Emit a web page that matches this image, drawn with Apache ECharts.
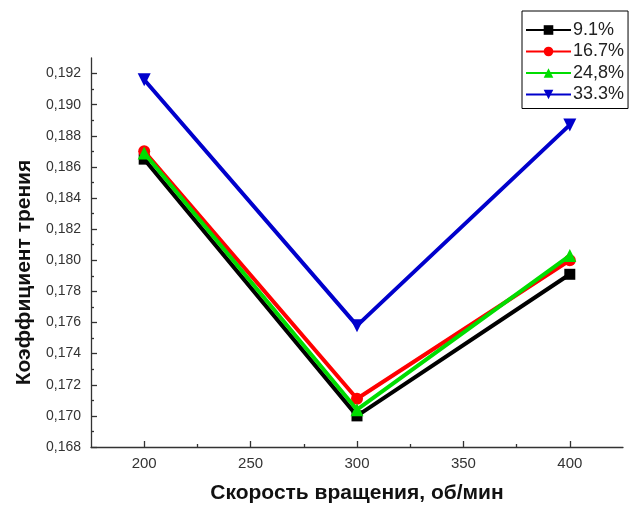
<!DOCTYPE html>
<html><head><meta charset="utf-8">
<script src="https://cdn.jsdelivr.net/npm/echarts@6/dist/echarts.min.js"></script>
<style>html,body{margin:0;padding:0;background:#fff}#c{width:629px;height:509px}</style>
</head><body><div id="c"></div>
<script>
const speeds = [200, 300, 400];
const s91 = [0.1865, 0.1700, 0.1791];
const s167 = [0.1870, 0.1711, 0.1800];
const s248 = [0.1869, 0.1704, 0.1803];
const s333 = [0.1916, 0.1758, 0.1887];
const seriesNames = ['9.1%', '16.7%', '24,8%', '33.3%'];
const yLabels = [0.168,0.170,0.172,0.174,0.176,0.178,0.180,0.182,0.184,0.186,0.188,0.190,0.192];
const yMinor = [0.169,0.171,0.173,0.175,0.177,0.179,0.181,0.183,0.185,0.187,0.189,0.191];
const xLabels = [200,250,300,350,400];
const xMinor = [225,275,325,375];

const font = 'Liberation Sans, Arial, sans-serif';
const pair = d => speeds.map((x,i)=>[x,d[i]]);
const colors = ['#000000','#ff0000','#00dd00','#0000cc'];
const symbols = ['rect','circle','triangle','triangle'];
const rot = [0,0,0,180];
const datas = [s91,s167,s248,s333];

const chart = echarts.init(document.getElementById('c'));
chart.setOption({
  animation:false,
  grid:{left:91, top:58, width:532, height:394},
  legend:{
    left:522, top:11, width:100, orient:'vertical',
    padding:[10,4,5,3], itemGap:3.5, itemWidth:45, itemHeight:12,
    borderColor:'#000', borderWidth:1,
    textStyle:{fontFamily:font, fontSize:18, color:'#222', padding:[0,0,0,-3]},
    data:seriesNames
  },
  xAxis:[{
    type:'value', min:175, max:425,
    name:'Скорость вращения, об/мин', nameLocation:'middle', nameGap:36,
    nameTextStyle:{fontFamily:font, fontSize:21, fontWeight:'bold', color:'#111'},
    axisLine:{lineStyle:{color:'#333', width:1.3}},
    axisTick:{inside:true, length:6, lineStyle:{color:'#333', width:1.3}, customValues:xLabels},
    axisLabel:{fontFamily:font, fontSize:15, color:'#333', margin:9, customValues:xLabels},
    splitLine:{show:false}
  },{
    type:'value', min:175, max:425, position:'bottom',
    axisLine:{show:false},
    axisTick:{inside:true, length:3, lineStyle:{color:'#333', width:1.3}, customValues:xMinor},
    axisLabel:{show:false}, splitLine:{show:false}
  }],
  yAxis:[{
    type:'value', min:0.168, max:0.193,
    name:'Коэффициент трения', nameLocation:'middle', nameGap:56,
    nameTextStyle:{fontFamily:font, fontSize:21, fontWeight:'bold', color:'#111', padding:[0,40,0,0]},
    axisLine:{show:true, lineStyle:{color:'#333', width:1.3}},
    axisTick:{show:true, inside:true, length:6, lineStyle:{color:'#333', width:1.3}, customValues:yLabels},
    axisLabel:{fontFamily:font, fontSize:14, color:'#333', margin:10, customValues:yLabels,
      formatter:v=>v.toFixed(3).replace('.', ',')},
    splitLine:{show:false}
  },{
    type:'value', min:0.168, max:0.193, position:'left',
    axisLine:{show:false},
    axisTick:{show:true, inside:true, length:3, lineStyle:{color:'#333', width:1.3}, customValues:yMinor},
    axisLabel:{show:false}, splitLine:{show:false}
  }],
  series: seriesNames.map((n,i)=>({
    name:n, type:'line', data:pair(datas[i]),
    symbol:symbols[i], symbolRotate:rot[i], symbolSize: i===0?11:(i===1?12:13),
    lineStyle:{color:colors[i], width:4},
    itemStyle:{color:colors[i]},
    z:2+i
  }))
});
</script></body></html>
